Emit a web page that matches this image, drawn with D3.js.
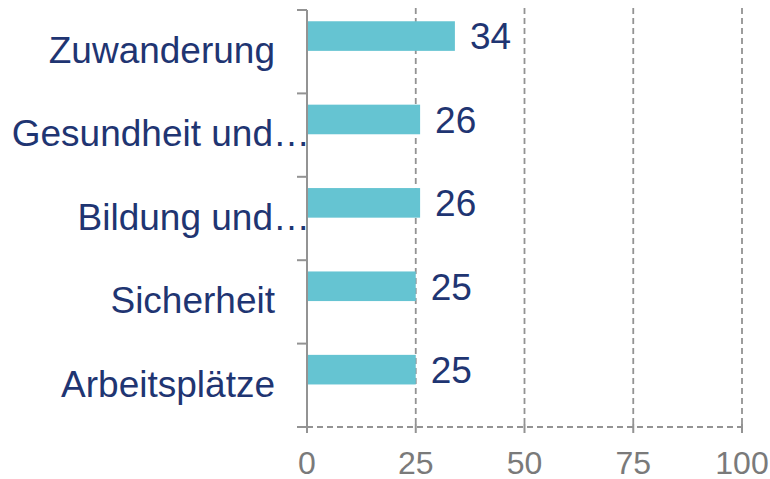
<!DOCTYPE html>
<html>
<head>
<meta charset="utf-8">
<script src="https://cdn.jsdelivr.net/npm/d3@7"></script>
<style>
  body { margin: 0; background: #fff; }
  text { font-family: "Liberation Sans", Arial, sans-serif; }
</style>
</head>
<body>
<div id="canvas"></div>
<script>
let categories = ["Zuwanderung", "Gesundheit und…", "Bildung und…", "Sicherheit", "Arbeitsplätze"]
let values = [34, 26, 26, 25, 25]
let tickValues = [0, 25, 50, 75, 100]

let svg = {}

window.onload = function () { setup() }

function setup () {
  let width = 770
  let height = 479
  let margin = { top: 10, left: 307, right: 28, bottom: 52 }

  svg = d3.select("#canvas")
    .append("svg")
    .attr("width", width)
    .attr("height", height)

  let x = d3.scaleLinear()
    .domain([0, 100])
    .range([margin.left, width - margin.right])

  let y = d3.scaleBand()
    .domain(categories)
    .range([margin.top, height - margin.bottom])

  let bw = y.bandwidth()
  let navy = "#1f3572"
  let grey = "#939393"

  // vertical grid lines
  svg.selectAll("line.grid")
    .data(tickValues.slice(1))
    .join("line")
    .attr("class", "grid")
    .attr("x1", d => x(d))
    .attr("x2", d => x(d))
    .attr("y1", margin.top - 2)
    .attr("y2", y.range()[1])
    .attr("stroke", grey)
    .attr("stroke-width", 1.8)
    .attr("stroke-dasharray", "6,4")

  // bottom axis line (dashed) and ticks
  svg.append("line")
    .attr("x1", x(0) - 10)
    .attr("x2", x(100))
    .attr("y1", y.range()[1])
    .attr("y2", y.range()[1])
    .attr("stroke", grey)
    .attr("stroke-width", 1.8)
    .attr("stroke-dasharray", "6,4")

  svg.selectAll("line.xtick")
    .data(tickValues)
    .join("line")
    .attr("class", "xtick")
    .attr("x1", d => x(d))
    .attr("x2", d => x(d))
    .attr("y1", y.range()[1] - 3)
    .attr("y2", y.range()[1] + 6)
    .attr("stroke", grey)
    .attr("stroke-width", 2)

  svg.selectAll("text.xlab")
    .data(tickValues)
    .join("text")
    .attr("class", "xlab")
    .attr("x", d => x(d))
    .attr("y", y.range()[1] + 47)
    .attr("text-anchor", "middle")
    .attr("font-size", 32)
    .attr("fill", "#7a7a7a")
    .text(d => d)

  // left axis
  svg.append("line")
    .attr("x1", x(0))
    .attr("x2", x(0))
    .attr("y1", y.range()[0])
    .attr("y2", y.range()[1])
    .attr("stroke", grey)
    .attr("stroke-width", 2)

  let bounds = categories.map(c => y(c)).concat([y.range()[1]])
  svg.selectAll("line.ytick")
    .data(bounds)
    .join("line")
    .attr("class", "ytick")
    .attr("x1", x(0) - 10)
    .attr("x2", x(0))
    .attr("y1", d => d)
    .attr("y2", d => d)
    .attr("stroke", grey)
    .attr("stroke-width", 2)

  // bars
  svg.selectAll("rect.bar")
    .data(values)
    .join("rect")
    .attr("class", "bar")
    .attr("x", x(0) + 1)
    .attr("y", (d, i) => y(categories[i]) + bw * 0.135)
    .attr("width", d => x(d) - x(0) - 1)
    .attr("height", bw * 0.355)
    .attr("fill", "#65c4d2")

  // value labels
  svg.selectAll("text.val")
    .data(values)
    .join("text")
    .attr("class", "val")
    .attr("x", d => x(d) + 15)
    .attr("y", (d, i) => y(categories[i]) + bw * 0.3125)
    .attr("dy", "0.36em")
    .attr("font-size", 37)
    .attr("fill", navy)
    .text(d => d)

  // category labels
  svg.selectAll("text.cat")
    .data(categories)
    .join("text")
    .attr("class", "cat")
    .attr("x", d => d.endsWith("…") ? x(0) + 3 : x(0) - 32)
    .attr("y", d => y(d) + bw / 2 - 2)
    .attr("dy", "0.36em")
    .attr("text-anchor", "end")
    .attr("font-size", 37)
    .attr("fill", navy)
    .text(d => d)
}
</script>
</body>
</html>
